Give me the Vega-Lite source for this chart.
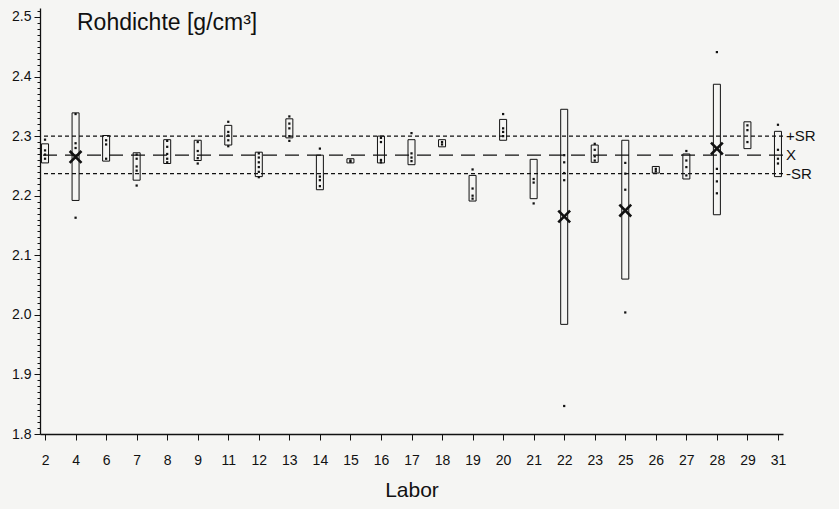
{
  "$schema": "https://vega.github.io/schema/vega-lite/v6.json",
  "width": 743,
  "height": 426,
  "autosize": "none",
  "padding": {"left": 40, "top": 8, "right": 56, "bottom": 75},
  "background": "#f5f5f3",
  "config": {
    "view": {"stroke": null},
    "font": "Liberation Sans",
    "axis": {"domainColor": "#111", "tickColor": "#111", "labelColor": "#111", "titleColor": "#111", "grid": false}
  },
  "title": {
    "text": "Rohdichte [g/cm³]",
    "anchor": "start",
    "frame": "group",
    "orient": "top",
    "baseline": "alphabetic",
    "offset": -25,
    "dx": 37,
    "dy": 24,
    "fontSize": 23,
    "fontWeight": "normal",
    "font": "Liberation Sans",
    "color": "#111"
  },
  "datasets": {
    "boxes": [
      {"lab": 2, "lo": 2.255, "hi": 2.287},
      {"lab": 4, "lo": 2.192, "hi": 2.339},
      {"lab": 6, "lo": 2.258, "hi": 2.301},
      {"lab": 7, "lo": 2.226, "hi": 2.272},
      {"lab": 8, "lo": 2.254, "hi": 2.294},
      {"lab": 9, "lo": 2.259, "hi": 2.293},
      {"lab": 11, "lo": 2.285, "hi": 2.318},
      {"lab": 12, "lo": 2.232, "hi": 2.273},
      {"lab": 13, "lo": 2.297, "hi": 2.329},
      {"lab": 14, "lo": 2.210, "hi": 2.268},
      {"lab": 15, "lo": 2.255, "hi": 2.262},
      {"lab": 16, "lo": 2.255, "hi": 2.300},
      {"lab": 17, "lo": 2.252, "hi": 2.294},
      {"lab": 18, "lo": 2.282, "hi": 2.294},
      {"lab": 19, "lo": 2.191, "hi": 2.234},
      {"lab": 20, "lo": 2.293, "hi": 2.328},
      {"lab": 21, "lo": 2.195, "hi": 2.261},
      {"lab": 22, "lo": 1.984, "hi": 2.345},
      {"lab": 23, "lo": 2.256, "hi": 2.285},
      {"lab": 25, "lo": 2.060, "hi": 2.293},
      {"lab": 26, "lo": 2.238, "hi": 2.249},
      {"lab": 27, "lo": 2.228, "hi": 2.270},
      {"lab": 28, "lo": 2.168, "hi": 2.387},
      {"lab": 29, "lo": 2.279, "hi": 2.324},
      {"lab": 31, "lo": 2.232, "hi": 2.308}
    ],
    "dots": [
      {"lab": 2, "v": 2.294}, {"lab": 2, "v": 2.276}, {"lab": 2, "v": 2.269}, {"lab": 2, "v": 2.262},
      {"lab": 4, "v": 2.337}, {"lab": 4, "v": 2.288}, {"lab": 4, "v": 2.280}, {"lab": 4, "v": 2.163},
      {"lab": 6, "v": 2.293}, {"lab": 6, "v": 2.286}, {"lab": 6, "v": 2.262},
      {"lab": 7, "v": 2.269}, {"lab": 7, "v": 2.262}, {"lab": 7, "v": 2.249}, {"lab": 7, "v": 2.242}, {"lab": 7, "v": 2.217},
      {"lab": 8, "v": 2.292}, {"lab": 8, "v": 2.282}, {"lab": 8, "v": 2.270}, {"lab": 8, "v": 2.262}, {"lab": 8, "v": 2.256},
      {"lab": 9, "v": 2.290}, {"lab": 9, "v": 2.275}, {"lab": 9, "v": 2.263}, {"lab": 9, "v": 2.254},
      {"lab": 11, "v": 2.324}, {"lab": 11, "v": 2.307}, {"lab": 11, "v": 2.301}, {"lab": 11, "v": 2.293}, {"lab": 11, "v": 2.283},
      {"lab": 12, "v": 2.271}, {"lab": 12, "v": 2.264}, {"lab": 12, "v": 2.256}, {"lab": 12, "v": 2.248}, {"lab": 12, "v": 2.240}, {"lab": 12, "v": 2.231},
      {"lab": 13, "v": 2.333}, {"lab": 13, "v": 2.321}, {"lab": 13, "v": 2.313}, {"lab": 13, "v": 2.300}, {"lab": 13, "v": 2.292},
      {"lab": 14, "v": 2.279}, {"lab": 14, "v": 2.232}, {"lab": 14, "v": 2.226}, {"lab": 14, "v": 2.216},
      {"lab": 15, "v": 2.259}, {"lab": 15, "v": 2.257},
      {"lab": 16, "v": 2.297}, {"lab": 16, "v": 2.290}, {"lab": 16, "v": 2.260}, {"lab": 16, "v": 2.256},
      {"lab": 17, "v": 2.305}, {"lab": 17, "v": 2.271}, {"lab": 17, "v": 2.264}, {"lab": 17, "v": 2.258},
      {"lab": 18, "v": 2.290}, {"lab": 18, "v": 2.286},
      {"lab": 19, "v": 2.244}, {"lab": 19, "v": 2.212}, {"lab": 19, "v": 2.200}, {"lab": 19, "v": 2.195},
      {"lab": 20, "v": 2.337}, {"lab": 20, "v": 2.313}, {"lab": 20, "v": 2.307}, {"lab": 20, "v": 2.300},
      {"lab": 21, "v": 2.228}, {"lab": 21, "v": 2.222}, {"lab": 21, "v": 2.187},
      {"lab": 22, "v": 2.268}, {"lab": 22, "v": 2.256}, {"lab": 22, "v": 2.238}, {"lab": 22, "v": 2.226}, {"lab": 22, "v": 1.847},
      {"lab": 23, "v": 2.287}, {"lab": 23, "v": 2.277}, {"lab": 23, "v": 2.266}, {"lab": 23, "v": 2.259},
      {"lab": 25, "v": 2.255}, {"lab": 25, "v": 2.237}, {"lab": 25, "v": 2.210}, {"lab": 25, "v": 2.004},
      {"lab": 26, "v": 2.245}, {"lab": 26, "v": 2.241},
      {"lab": 27, "v": 2.275}, {"lab": 27, "v": 2.259}, {"lab": 27, "v": 2.248}, {"lab": 27, "v": 2.234},
      {"lab": 28, "v": 2.441}, {"lab": 28, "v": 2.245}, {"lab": 28, "v": 2.224}, {"lab": 28, "v": 2.204},
      {"lab": 29, "v": 2.318}, {"lab": 29, "v": 2.310}, {"lab": 29, "v": 2.290},
      {"lab": 31, "v": 2.319}, {"lab": 31, "v": 2.277}, {"lab": 31, "v": 2.262}, {"lab": 31, "v": 2.254}
    ],
    "means": [
      {"lab": 4, "v": 2.265},
      {"lab": 22, "v": 2.165},
      {"lab": 25, "v": 2.175},
      {"lab": 28, "v": 2.279}
    ],
    "refs": [
      {"name": "+SR", "v": 2.300},
      {"name": "X", "v": 2.268},
      {"name": "-SR", "v": 2.237}
    ]
  },
  "layer": [
    {
      "data": {"name": "refs"},
      "mark": {"type": "rule", "strokeWidth": 1.3, "color": "#111"},
      "encoding": {
        "y": {"field": "v", "type": "quantitative", "scale": {"domain": [1.8, 2.515], "nice": false, "zero": false}},
        "strokeDash": {"field": "name", "type": "nominal", "scale": {"domain": ["+SR", "X", "-SR"], "range": [[4, 3], [14, 8], [4, 3]]}, "legend": null}
      }
    },
    {
      "data": {"name": "boxes"},
      "mark": {"type": "bar", "width": 7, "fill": null, "fillOpacity": 0, "stroke": "#111", "strokeWidth": 1},
      "encoding": {
        "x": {"field": "lab", "type": "ordinal", "scale": {"type": "point", "padding": 0.165}, "axis": {"title": "Labor", "labelAngle": 0, "tickSize": 6, "labelPadding": 13, "labelFontSize": 14, "titleFontSize": 21, "titleFontWeight": "normal", "titlePadding": 12, "domainWidth": 1.3}},
        "y": {"field": "hi", "type": "quantitative"},
        "y2": {"field": "lo"}
      }
    },
    {
      "data": {"name": "dots"},
      "mark": {"type": "point", "shape": "square", "filled": true, "size": 5, "color": "#111", "opacity": 1},
      "encoding": {
        "x": {"field": "lab", "type": "ordinal"},
        "y": {"field": "v", "type": "quantitative"}
      }
    },
    {
      "data": {"name": "means"},
      "mark": {"type": "point", "shape": "M-1,-1L1,1M-1,1L1,-1", "filled": false, "size": 140, "strokeWidth": 2.6, "color": "#111", "opacity": 1},
      "encoding": {
        "x": {"field": "lab", "type": "ordinal"},
        "y": {"field": "v", "type": "quantitative"}
      }
    },
    {
      "data": {"name": "refs"},
      "mark": {"type": "text", "align": "left", "baseline": "middle", "dx": 8, "fontSize": 15, "color": "#111"},
      "encoding": {
        "x": {"datum": 31, "type": "ordinal"},
        "y": {"field": "v", "type": "quantitative"},
        "text": {"field": "name"}
      }
    }
  ],
  "encoding": {
    "y": {
      "type": "quantitative",
      "axis": {
        "title": null,
        "values": [1.8, 1.81, 1.82, 1.83, 1.84, 1.85, 1.86, 1.87, 1.88, 1.89, 1.9, 1.91, 1.92, 1.93, 1.94, 1.95, 1.96, 1.97, 1.98, 1.99, 2.0, 2.01, 2.02, 2.03, 2.04, 2.05, 2.06, 2.07, 2.08, 2.09, 2.1, 2.11, 2.12, 2.13, 2.14, 2.15, 2.16, 2.17, 2.18, 2.19, 2.2, 2.21, 2.22, 2.23, 2.24, 2.25, 2.26, 2.27, 2.28, 2.29, 2.3, 2.31, 2.32, 2.33, 2.34, 2.35, 2.36, 2.37, 2.38, 2.39, 2.4, 2.41, 2.42, 2.43, 2.44, 2.45, 2.46, 2.47, 2.48, 2.49, 2.5, 2.51],
        "format": ".1f",
        "labelExpr": "abs(datum.value * 10 - round(datum.value * 10)) < 0.001 ? datum.label : ''",
        "labelOverlap": false,
        "tickSize": {"condition": {"test": "abs(datum.value * 10 - round(datum.value * 10)) < 0.001", "value": 6}, "value": 3},
        "labelFontSize": 14,
        "labelPadding": 3,
        "domainWidth": 1.3
      }
    }
  }
}
